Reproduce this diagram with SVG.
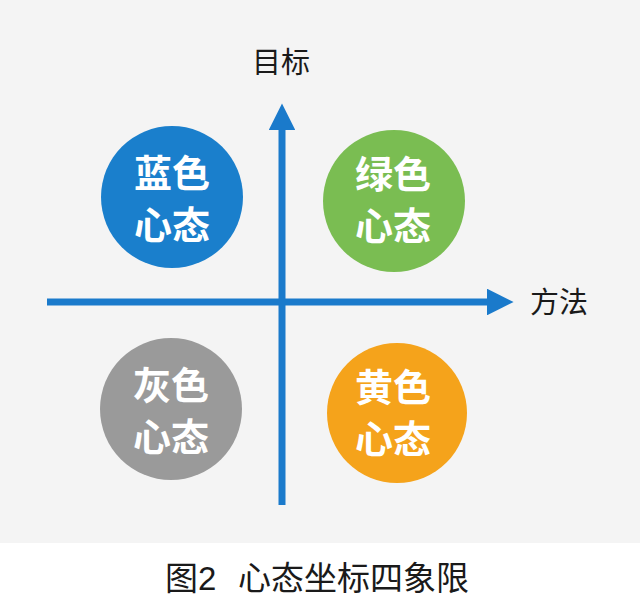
<svg xmlns="http://www.w3.org/2000/svg" width="640" height="601" viewBox="0 0 640 601">
<defs>
<style>
.lbl{font-family:"Noto Sans CJK SC","Noto Sans",sans-serif;font-size:38px;font-weight:bold;fill:#ffffff;text-anchor:middle}
.ax{font-family:"Noto Sans CJK SC","Noto Sans",sans-serif;font-size:29px;fill:#1a1a1a}
.cap{font-family:"Liberation Sans","Noto Sans CJK SC",sans-serif;font-size:33px;fill:#1a1a1a}
.axis{stroke:#1a7acb;stroke-width:7;fill:none}
</style>
<marker id="ah" viewBox="0 0 10 10" refX="0" refY="5" markerWidth="4.3" markerHeight="3.8" orient="auto" markerUnits="strokeWidth">
<path d="M0,0 L10,5 L0,10 z" fill="#1a7acb"/>
</marker>
</defs>
<rect x="0" y="0" width="640" height="543" fill="#f4f4f4"/>
<rect x="0" y="543" width="640" height="58" fill="#ffffff"/>
<g id="connectors">
<line class="axis" x1="47" y1="302" x2="487" y2="302" marker-end="url(#ah)"/>
<line class="axis" x1="282" y1="505" x2="282" y2="130" marker-end="url(#ah)"/>
</g>
<g id="axis-y-label"><text class="ax" x="252" y="73">目标</text></g>
<g id="axis-x-label"><text class="ax" x="530" y="313">方法</text></g>
<g id="blue">
<circle cx="172" cy="197" r="71" fill="#1a7fcc"/>
<text class="lbl"><tspan x="172" y="187">蓝色</tspan><tspan x="172" y="239">心态</tspan></text>
</g>
<g id="green">
<circle cx="394" cy="201" r="71" fill="#7abd52"/>
<text class="lbl"><tspan x="393" y="188">绿色</tspan><tspan x="393" y="240">心态</tspan></text>
</g>
<g id="gray">
<circle cx="171" cy="409" r="71" fill="#9a9a9a"/>
<text class="lbl"><tspan x="171" y="399">灰色</tspan><tspan x="171" y="451">心态</tspan></text>
</g>
<g id="yellow">
<circle cx="397" cy="413" r="70" fill="#f5a31b"/>
<text class="lbl"><tspan x="393" y="401">黄色</tspan><tspan x="393" y="453">心态</tspan></text>
</g>
<g id="caption"><text class="cap" y="590"><tspan x="165">图2</tspan><tspan x="238">心态坐标四象限</tspan></text></g>
</svg>
